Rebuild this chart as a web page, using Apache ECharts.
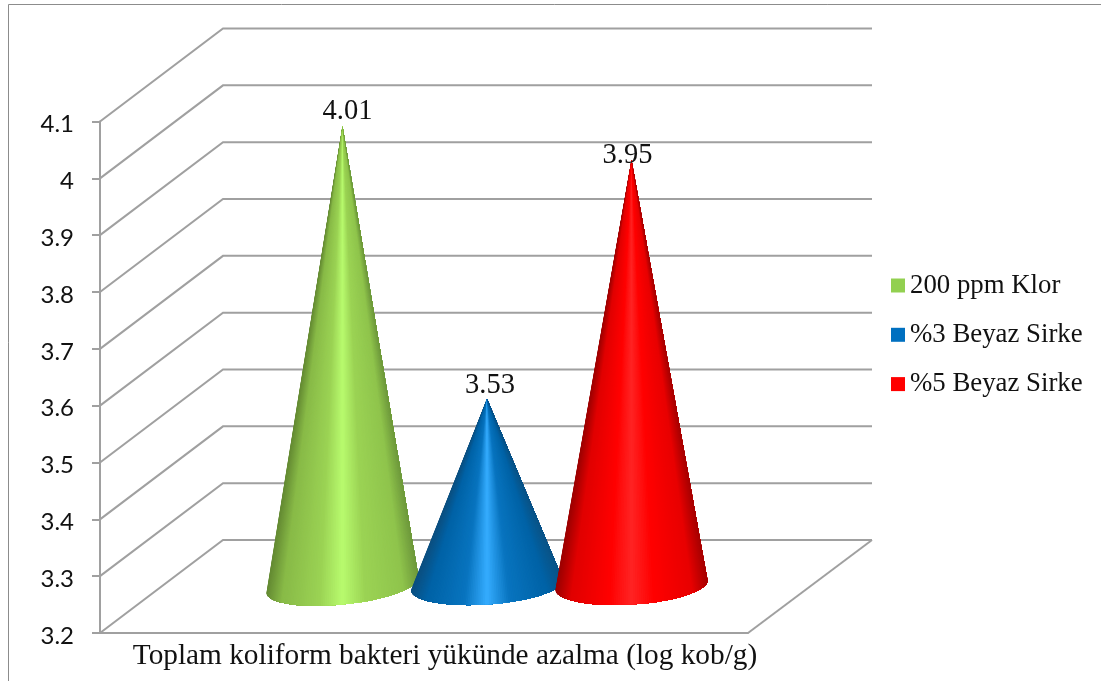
<!DOCTYPE html>
<html>
<head>
<meta charset="utf-8">
<style>html,body{margin:0;padding:0;background:#fff}#c{width:1101px;height:681px}</style>
<script src="https://cdn.jsdelivr.net/npm/echarts@6/dist/echarts.min.js"></script>
</head>
<body>
<div id="c"></div>
<script>
const categories = ['Toplam koliform bakteri yükünde azalma (log kob/g)'];
const seriesNames = ['200 ppm Klor', '%3 Beyaz Sirke', '%5 Beyaz Sirke'];
const seriesValues = [4.01, 3.53, 3.95];
const tickValues = [3.2, 3.3, 3.4, 3.5, 3.6, 3.7, 3.8, 3.9, 4.0, 4.1];
const legendColors = ['#92d050', '#0070c0', '#ff0000'];
const gradients = [
  ['#648a33', '#88ba47', '#9bd354', '#b8fb6e', '#9bd354', '#8fc44c', '#6f9a3c'],
  ['#0b4f80', '#0062a6', '#0874bf', '#35acff', '#0874bf', '#0062a6', '#0a5488'],
  ['#9c0000', '#e00000', '#ff0000', '#ff2424', '#ff0000', '#e80000', '#a80000']
];
const stops = [0, 0.1, 0.35, 0.5, 0.65, 0.9, 1];
const tilts = [7.5, 5, 4.5];
const labelShift = [[5, 0], [3, 1], [-4, 10]];

const DX = 123, DY = 93, HALF = 76, SPACING = 144.5, MINOR = 19.5, GRAY = '#a0a0a0', STEPS = 120;

function wallItem(params, api) {
  const v = api.value(0);
  const p = api.coord([0, v]);
  const cs = params.coordSys;
  const y = p[1], x0 = cs.x, x1 = cs.x + cs.width;
  const children = [
    { type: 'polyline', shape: { points: [[x0, y], [x0 + DX, y - DY], [x1 + DX + 1, y - DY]] },
      style: { fill: null, stroke: GRAY, lineWidth: 2 } }
  ];
  if (params.dataIndex === 0) {
    children.push({ type: 'line', shape: { x1: x1, y1: y, x2: x1 + DX + 1, y2: y - DY },
      style: { stroke: GRAY, lineWidth: 2 } });
  }
  return { type: 'group', children };
}

function shade(i, u) {
  let j = 0;
  while (j < stops.length - 2 && u > stops[j + 1]) j++;
  const f = (u - stops[j]) / (stops[j + 1] - stops[j]);
  return echarts.color.lerp(f, [gradients[i][j], gradients[i][j + 1]]);
}

function coneItem(i) {
  return function (params, api) {
    const tip = api.coord([0, api.value(0)]);
    const base = api.coord([0, tickValues[0]]);
    const cx = tip[0] + (i - 1) * SPACING + DX / 2 + 1.5;
    const tipY = tip[1] - DY / 2;
    const cy = base[1] - 48;
    const tilt = tilts[i];
    const rim = [];
    for (let k = 0; k <= STEPS; k++) {
      const t = Math.PI * (1 - k / STEPS);
      rim.push([cx + HALF * Math.cos(t), cy - tilt * Math.cos(t) + MINOR * Math.sin(t)]);
    }
    const children = [];
    // sweep left to right: each fan covers the rest of the cone, so no seams show
    for (let k = 0; k < STEPS; k++) {
      const u = ((rim[k][0] + rim[k + 1][0]) / 2 - (cx - HALF)) / (2 * HALF);
      children.push({ type: 'polygon', shape: { points: [[cx, tipY]].concat(rim.slice(k)) },
        style: { fill: shade(i, u) } });
    }
    children.push({ type: 'text', x: cx + labelShift[i][0], y: tipY + labelShift[i][1],
      style: { text: String(api.value(0)), font: '28.5px "Liberation Serif"', fill: '#111',
        align: 'center', verticalAlign: 'bottom' } });
    return { type: 'group', children };
  };
}

const chart = echarts.init(document.getElementById('c'), null, { renderer: 'canvas' });
chart.setOption({
  animation: false,
  backgroundColor: '#fff',
  graphic: [
    { type: 'polyline', silent: true, shape: { points: [[8.5, 681], [8.5, 4.5], [1101, 4.5]] },
      style: { fill: null, stroke: '#8c8c8c', lineWidth: 1 } }
  ],
  grid: { left: 100, top: 121.5, width: 648, height: 511.5, containLabel: false },
  legend: {
    orient: 'vertical', left: 886, top: 267, itemWidth: 14, itemHeight: 14, itemGap: 22.3, icon: 'rect',
    data: seriesNames,
    textStyle: { fontFamily: 'Liberation Serif', fontSize: 26.8, color: '#111' }
  },
  xAxis: {
    type: 'category', data: categories,
    axisLine: { lineStyle: { color: GRAY, width: 2 } },
    axisTick: { show: false },
    axisLabel: { fontFamily: 'Liberation Serif', fontSize: 29.3, color: '#111', margin: 9, padding: [0, 0, 0, 42], interval: 0 }
  },
  yAxis: {
    type: 'value', min: 3.2, max: 4.1, interval: 0.1,
    axisLine: { show: true, lineStyle: { color: GRAY, width: 2 } },
    axisTick: { show: true, length: 8, lineStyle: { color: GRAY, width: 2 } },
    splitLine: { show: false },
    axisLabel: {
      margin: 26, formatter: '{a|{value}}',
      rich: { a: { fontFamily: 'Lato', fontSize: 24, color: '#111', padding: [6, 0, 0, 0] } }
    }
  },
  series: [
    { type: 'custom', name: 'walls', data: tickValues.map(v => [v]), renderItem: wallItem, encode: { y: 0 }, clip: false, silent: true, z: 1 },
    ...seriesNames.map((n, i) => ({
      type: 'custom', name: n, data: [[seriesValues[i]]], renderItem: coneItem(i), encode: { y: 0 },
      clip: false, z: 2, itemStyle: { color: legendColors[i] }
    }))
  ]
});
</script>
</body>
</html>
